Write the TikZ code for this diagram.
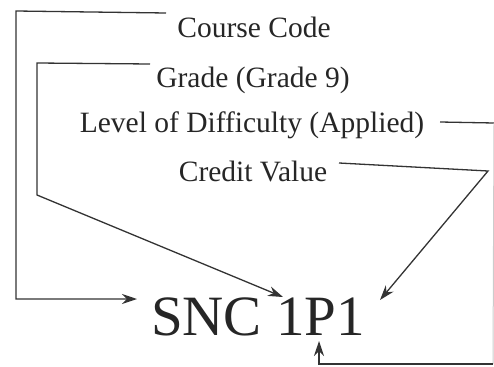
\documentclass[tikz,border=0pt]{standalone}
\usepackage{fontspec}
\setmainfont{Liberation Serif}
\usetikzlibrary{arrows.meta}
\begin{document}
\begin{tikzpicture}[x=1pt,y=-1pt,
  lbl/.style={anchor=base,inner sep=0pt,font=\fontsize{29.5}{32}\selectfont,text=black!85},
  code/.style={anchor=base,inner sep=0pt,font=\fontsize{57}{60}\selectfont,text=black!85},
  conn/.style={draw=black!80,line width=1.3pt,line join=miter},
  faint/.style={draw=black!20,line width=1pt},
  tip/.style={-{Stealth[length=15pt,width=10pt]}}]
\useasboundingbox (0,0) rectangle (494,366);
% labels
\node[lbl] (cc) at (254,38) {Course Code};
\node[lbl] (gr) at (253,88) {Grade (Grade 9)};
\node[lbl] (lv) at (252,132) {Level of Difficulty (Applied)};
\node[lbl] (cv) at (253,181) {Credit Value};
\node[code] (snc) at (258,335) {SNC 1P1};
% connector points
\coordinate (ccA) at (166,13);
\coordinate (ccB) at (16,11);
\coordinate (ccC) at (16,299);
\coordinate (ccT) at (137,299);
\coordinate (grA) at (150,64);
\coordinate (grB) at (37,63);
\coordinate (grC) at (37,195);
\coordinate (grT) at (283,297);
\coordinate (lvA) at (440,122);
\coordinate (lvB) at (494,123);
\coordinate (lvC) at (493,364);
\coordinate (lvD) at (319,364);
\coordinate (lvT) at (319,341);
\coordinate (cvA) at (339,163);
\coordinate (cvB) at (488,171);
\coordinate (cvT) at (380,300);
% connectors
\draw[conn,tip] (ccA) -- (ccB) -- (ccC) -- (ccT);
\draw[conn,tip] (grA) -- (grB) -- (grC) -- (grT);
\draw[conn] (lvA) -- (lvB);
\draw[faint] (lvB) -- (lvC);
\draw[conn,tip] (lvC) -- (lvD) -- (lvT);
\draw[conn,tip] (cvA) -- (cvB) -- (cvT);
\end{tikzpicture}
\end{document}
